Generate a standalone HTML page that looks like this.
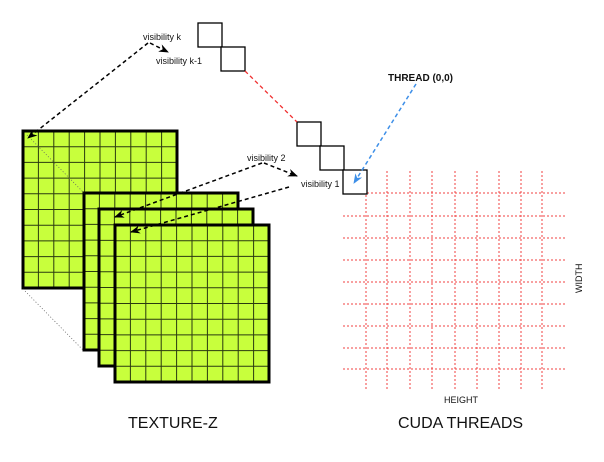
<!DOCTYPE html>
<html><head><meta charset="utf-8"><style>
html,body{margin:0;padding:0;background:#fff;}
svg{display:block;font-family:"Liberation Sans",sans-serif;}
</style></head><body>
<svg id="s" width="604" height="462" viewBox="0 0 604 462">
<defs>
<marker id="ah" markerWidth="10" markerHeight="8" refX="9" refY="4" orient="auto" markerUnits="userSpaceOnUse"><path d="M0,0 L10,4 L0,8 L3,4 Z" fill="#000"/></marker>
<marker id="ahb" markerWidth="10" markerHeight="8" refX="9" refY="4" orient="auto" markerUnits="userSpaceOnUse"><path d="M0,0 L10,4 L0,8 L3,4 Z" fill="#3d8fe8"/></marker>
</defs>
<g id="red-grid"></g>
<g id="tex"></g>
<line x1="27" y1="135" x2="84" y2="193" stroke="#666" stroke-width="0.8" stroke-dasharray="1,2"/>
<line x1="23" y1="289" x2="84" y2="351" stroke="#666" stroke-width="0.8" stroke-dasharray="1,2"/>
<g fill="#fff" stroke="#000" stroke-width="1.3">
<rect x="198" y="23" width="24" height="24"/>
<rect x="221" y="47" width="24" height="24"/>
<rect x="297" y="122" width="24" height="24"/>
<rect x="320" y="146" width="24" height="24"/>
<rect x="343" y="170" width="24" height="24"/>
</g>
<line x1="245" y1="71" x2="297" y2="122" stroke="#f03030" stroke-width="1.3" stroke-dasharray="4,3"/>
<g fill="none" stroke="#000" stroke-width="1.5" stroke-dasharray="4,3">
<path d="M148,43 L28,138" marker-end="url(#ah)"/>
<path d="M150,43 L168,52" marker-end="url(#ah)"/>
<path d="M262,163 L115,217" marker-end="url(#ah)"/>
<path d="M264,163 L297,176" marker-end="url(#ah)"/>
<path d="M289,187 L131,232" marker-end="url(#ah)"/>
</g>
<path d="M416,84 L354,183" fill="none" stroke="#3d8fe8" stroke-width="1.5" stroke-dasharray="4,3" marker-end="url(#ahb)"/>
<g font-size="9" fill="#111">
<text x="143" y="40">visibility k</text>
<text x="156" y="64">visibility k-1</text>
<text x="247" y="161">visibility 2</text>
<text x="301" y="187">visibility 1</text>
<text x="388" y="81" font-weight="bold" font-size="10">THREAD (0,0)</text>
<text x="444" y="403">HEIGHT</text>
<text x="0" y="0" transform="translate(582,293) rotate(-90)">WIDTH</text>
</g>
<text x="128" y="428" font-size="16" fill="#111">TEXTURE-Z</text>
<text x="398" y="428" font-size="16" fill="#111">CUDA THREADS</text>
</svg>
<script>
const NS="http://www.w3.org/2000/svg";
const gridXs=[366,387,410,432,455,477,499,521,542];
const gridYs=[193,216,238,260,282,304,326,348,369];
const layerOrigins=[[23,131],[84,193],[99,209],[115,225]];
const cellsPerSide=10;
const rg=document.getElementById('red-grid');
gridXs.forEach(x=>{const l=document.createElementNS(NS,'line');
l.setAttribute('x1',x);l.setAttribute('x2',x);l.setAttribute('y1',171);l.setAttribute('y2',390);
l.setAttribute('stroke','#f04040');l.setAttribute('stroke-width','1');l.setAttribute('stroke-dasharray','2,2');


rg.appendChild(l);});
gridYs.forEach(y=>{const l=document.createElementNS(NS,'line');
l.setAttribute('y1',y);l.setAttribute('y2',y);l.setAttribute('x1',343);l.setAttribute('x2',565);
l.setAttribute('stroke','#f04040');l.setAttribute('stroke-width','1');l.setAttribute('stroke-dasharray','2,2');


rg.appendChild(l);});
const tex=document.getElementById('tex');
layerOrigins.forEach(([x0,y0],i)=>{
const g=document.createElementNS(NS,'g');


const w=154,h=157,cw=w/cellsPerSide,ch=h/cellsPerSide;
const r=document.createElementNS(NS,'rect');
r.setAttribute('x',x0);r.setAttribute('y',y0);r.setAttribute('width',w);r.setAttribute('height',h);
r.setAttribute('fill','#c8ff3c');
g.appendChild(r);
let d='';
for(let k=1;k<cellsPerSide;k++){d+=`M${x0+k*cw},${y0}V${y0+h}M${x0},${y0+k*ch}H${x0+w}`;}
const p=document.createElementNS(NS,'path');
p.setAttribute('d',d);p.setAttribute('stroke','#2a3a10');p.setAttribute('stroke-width','1');p.setAttribute('fill','none');
g.appendChild(p);
const b=document.createElementNS(NS,'rect');
b.setAttribute('x',x0);b.setAttribute('y',y0);b.setAttribute('width',w);b.setAttribute('height',h);
b.setAttribute('fill','none');b.setAttribute('stroke','#000');b.setAttribute('stroke-width','3');
g.appendChild(b);
tex.appendChild(g);});
</script>
</body></html>
